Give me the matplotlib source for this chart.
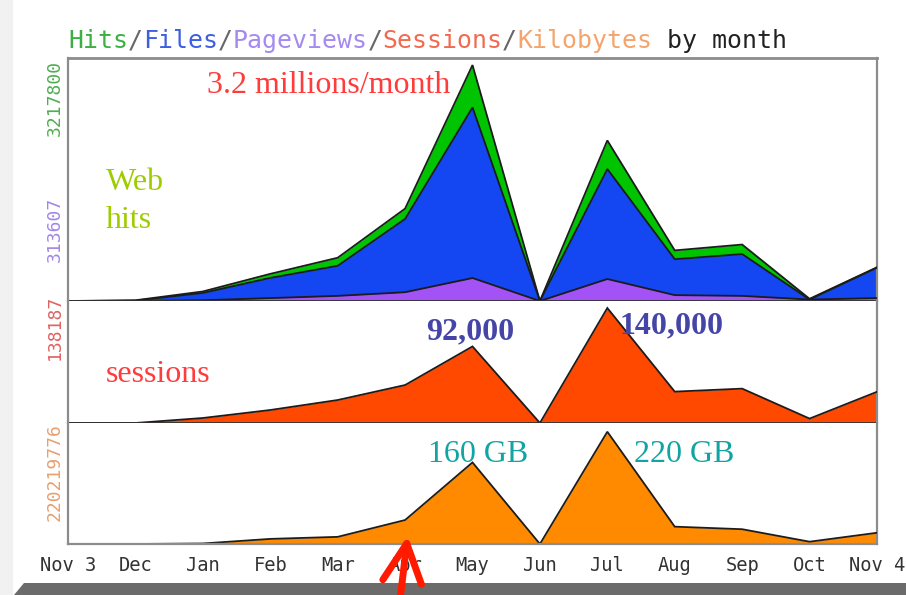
import numpy as np
import matplotlib
matplotlib.use("Agg")
import matplotlib.pyplot as plt
from matplotlib.patches import Polygon, Rectangle, FancyArrowPatch, ArrowStyle

# Monthly usage statistics
months = ["Nov 3", "Dec", "Jan", "Feb", "Mar", "Apr", "May",
          "Jun", "Jul", "Aug", "Sep", "Oct", "Nov 4"]
hits_m = [0, 0.01, 0.13, 0.37, 0.59, 1.26, 3.2178, 0, 2.19, 0.69, 0.77, 0.03, 0.46]
files_m = [0, 0.005, 0.11, 0.315, 0.48, 1.12, 2.64, 0, 1.80, 0.57, 0.64, 0.02, 0.455]
pageviews_m = [0, 0.002, 0.01, 0.04, 0.07, 0.12, 0.3136, 0, 0.30, 0.08, 0.07, 0.02, 0.04]
sessions = [0, 0, 6000, 15600, 27600, 45600, 92000, 0, 138187, 37700, 41300, 5300, 37500]
kilobytes_gb = [0, 0, 1, 10, 14, 47, 160, 0, 220.2, 34, 29, 4.5, 22]

scale_labels = ["3217800", "313607", "138187", "220219776"]

W, H = 906, 595
fig = plt.figure(figsize=(W / 100, H / 100), dpi=100)
fig.patch.set_facecolor("white")


def fx(x):
    return x / W


def fy(y):
    return 1 - y / H


# page decoration: light left margin and dark bottom band
fig.patches.append(Rectangle((0, 0), fx(13), 1, transform=fig.transFigure,
                             facecolor="#f1f1f1", edgecolor="none", zorder=0))
fig.patches.append(Polygon([(fx(14), fy(595)), (fx(24), fy(583)), (fx(906), fy(583)),
                            (fx(906), fy(595))], closed=True, transform=fig.transFigure,
                           facecolor="#6b6b6b", edgecolor="none", zorder=0))

L, R = 68, 877
ax1 = fig.add_axes([fx(L), fy(301), (R - L) / W, (301 - 58) / H])
ax2 = fig.add_axes([fx(L), fy(423), (R - L) / W, (423 - 301) / H])
ax3 = fig.add_axes([fx(L), fy(544), (R - L) / W, (544 - 423) / H])

x = np.arange(len(months))
edge = "#1c1c1c"


def area(ax, vals, color):
    ax.fill_between(x, 0, vals, color=color, lw=0, zorder=2)
    ax.plot(x, vals, color=edge, lw=1.3, zorder=3, solid_joinstyle="miter")


area(ax1, hits_m, "#00c400")
area(ax1, files_m, "#1446f2")
area(ax1, pageviews_m, "#a352f5")
area(ax2, sessions, "#ff4800")
area(ax3, kilobytes_gb, "#ff8a00")

ax1.set_ylim(0, 3.314)
ax2.set_ylim(0, 146600)
ax3.set_ylim(0, 237.3)

frame = "#8c8c8c"
divider = "#333333"
for ax in (ax1, ax2, ax3):
    ax.set_xlim(0, 12)
    ax.set_yticks([])
    ax.set_facecolor("white")
    for s in ("left", "right"):
        ax.spines[s].set_color(frame)
        ax.spines[s].set_linewidth(1.6)
    ax.spines["top"].set_visible(False)
    ax.spines["bottom"].set_color(divider)
    ax.spines["bottom"].set_linewidth(1.3)
    ax.spines["bottom"].set_zorder(4)

ax1.spines["top"].set_visible(True)
ax1.spines["top"].set_color(frame)
ax1.spines["top"].set_linewidth(2)
ax3.spines["bottom"].set_color(frame)
ax3.spines["bottom"].set_linewidth(1.6)

for ax in (ax1, ax2):
    ax.set_xticks([])

ax3.set_xticks(x)
ax3.set_xticklabels(months, fontfamily="DejaVu Sans Mono", fontsize=13.5, color="#333333")
ax3.tick_params(axis="x", length=0, pad=8.5)

# title with per-series colours
title_parts = [("Hits", "#3cb043"), ("/", "#666666"), ("Files", "#3d5fe0"), ("/", "#666666"),
               ("Pageviews", "#a58af0"), ("/", "#666666"), ("Sessions", "#f26a4f"),
               ("/", "#666666"), ("Kilobytes", "#f4a46c"), (" by month", "#222222")]
tsize = 17.9
adv = 0.6021 * tsize * 100 / 72
pos = 68
for txt, col in title_parts:
    fig.text(fx(pos), fy(48), txt, fontfamily="DejaVu Sans Mono", fontsize=tsize,
             color=col, va="baseline", ha="left")
    pos += adv * len(txt)

# rotated scale values on the left
for lab, top, col in zip(scale_labels, [60, 197, 295, 423],
                         ["#4fae4f", "#a286e6", "#e06262", "#e8a070"]):
    fig.text(fx(55), fy(top), lab, rotation=90, fontfamily="DejaVu Sans Mono",
             fontsize=13, color=col, ha="center", va="top")

# callouts
serif = "Liberation Serif"
fig.text(fx(207), fy(93), "3.2 millions/month", fontfamily=serif, fontsize=23,
         color="#ff3b3b", va="baseline")
fig.text(fx(106), fy(190), "Web", fontfamily=serif, fontsize=23, color="#9fcc00", va="baseline")
fig.text(fx(106), fy(228), "hits", fontfamily=serif, fontsize=23, color="#9fcc00", va="baseline")
fig.text(fx(106), fy(382), "sessions", fontfamily=serif, fontsize=23, color="#ff3b3b", va="baseline")
fig.text(fx(426), fy(339), "92,000", fontfamily=serif, fontsize=23, fontweight="bold",
         color="#4545a8", va="baseline")
fig.text(fx(619), fy(333), "140,000", fontfamily=serif, fontsize=23, fontweight="bold",
         color="#4545a8", va="baseline")
fig.text(fx(428), fy(462), "160 GB", fontfamily=serif, fontsize=23, color="#12a3a3", va="baseline")
fig.text(fx(634), fy(462), "220 GB", fontfamily=serif, fontsize=23, color="#12a3a3", va="baseline")

# red pointer arrow
arrow = FancyArrowPatch((fx(400), fy(600)), (fx(408), fy(533)), transform=fig.transFigure,
                        arrowstyle=ArrowStyle("->", head_length=28, head_width=14),
                        mutation_scale=1, color="#ff1a00", lw=5, capstyle="round",
                        joinstyle="round", zorder=10)
fig.patches.append(arrow)

fig.savefig("out.png", dpi=100, facecolor="white")
